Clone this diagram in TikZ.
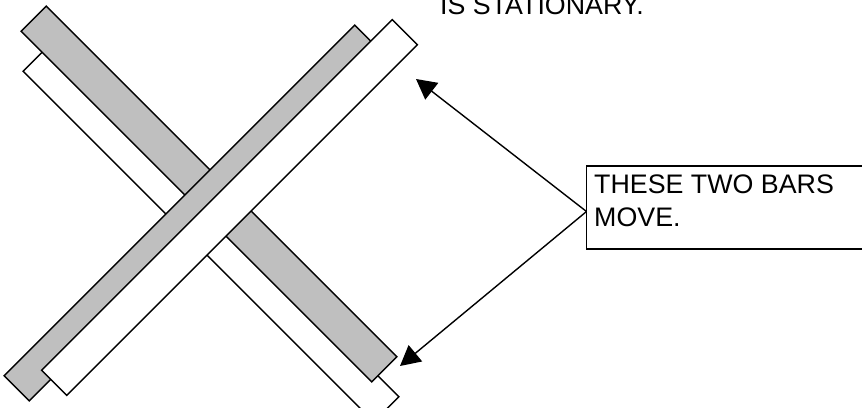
\documentclass[tikz,border=0pt]{standalone}
\usepackage{fontspec}
\setmainfont{Liberation Sans}
\usetikzlibrary{arrows.meta}
\tikzstyle{arrow} = [line width=1.4pt,-{Triangle[length=20pt,width=21pt]}]

\begin{document}
\begin{tikzpicture}
        [
            x=1pt,y=-1pt,
            bar/.style={rectangle,draw=black,line width=1.4pt,minimum width=496pt,minimum height=35.4pt,inner sep=0pt},
            label/.style={font=\fontsize{26.8pt}{31pt}\selectfont,inner sep=0pt},
        ]
    \useasboundingbox (0,0) rectangle (862,407);

    \node [bar,fill=white,rotate=-45] (backwhite) at (211,234){};
    \node [bar,fill=lightgray,rotate=-45] (backgray) at (209,194){};
    \node [bar,fill=lightgray,rotate=45] (frontgray) at (192,213){};
    \node [bar,fill=white,rotate=45] (frontwhite) at (229.5,207.5){};

    \draw [line width=1.4pt] (586.5,166) rectangle (880,249);
    \coordinate (boxleft) at (586.5,211.5);
    \coordinate (uppertip) at (416,79);
    \coordinate (lowertip) at (400,366);
    \node [label,anchor=base west] (stationary) at (440,14){IS STATIONARY.};
    \node [label,anchor=base west] (twobars) at (594,193){THESE TWO BARS};
    \node [label,anchor=base west] (move) at (594,226){MOVE.};

    \draw [arrow] (boxleft) -- (uppertip);
    \draw [arrow] (boxleft) -- (lowertip);
\end{tikzpicture}
\end{document}
